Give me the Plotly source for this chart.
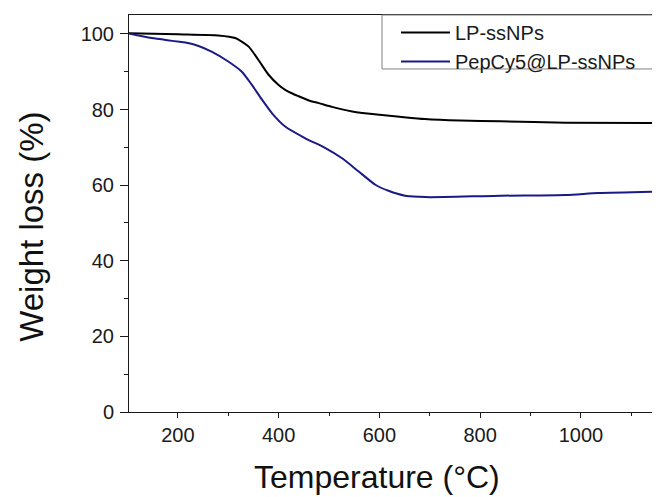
import plotly.graph_objects as go

# LP-ssNPs (black)
t_lp = [100, 200, 280, 314, 340, 360, 380, 400, 413, 426, 440, 460, 480, 506, 546, 600, 640, 690, 760, 840, 970, 1157]
w_lp = [100.2, 99.9, 99.6, 98.9, 96.7, 93.1, 89.2, 86.5, 85.2, 84.3, 83.5, 82.4, 81.7, 80.7, 79.5, 78.6, 78.1, 77.5, 77.1, 76.9, 76.5, 76.4]

# PepCy5@LP-ssNPs (blue)
t_pep = [100, 148, 215, 241, 267, 300, 327, 347, 367, 387, 413, 453, 493, 526, 559, 592, 618, 651, 680, 700, 840, 970, 1035, 1157]
w_pep = [100.2, 98.9, 97.7, 96.8, 95.3, 92.7, 90.0, 86.5, 82.6, 79.0, 75.5, 72.4, 69.8, 67.1, 63.6, 60.1, 58.5, 57.2, 56.9, 56.8, 57.2, 57.4, 57.9, 58.3]

names = ["LP-ssNPs", "PepCy5@LP-ssNPs"]
colors = ["#000000", "#1a1a85"]

x_ticks = [200, 400, 600, 800, 1000]
y_ticks = [0, 20, 40, 60, 80, 100]

FONT = "Liberation Sans, Arial, sans-serif"

# page offset of the plot div (body margin)
OFF = 8
PL, PR, PT, PB = 129, 660, 15, 412.3   # plot area in page pixels


def xp(px):
    return (px - PL) / (PR - PL)


def yp(py):
    return (PB - py) / (PB - PT)


fig = go.Figure()
fig.add_trace(go.Scatter(x=t_lp, y=w_lp, mode="lines", name=names[0],
                         line=dict(color=colors[0], width=2, shape="spline", smoothing=0.6)))
fig.add_trace(go.Scatter(x=t_pep, y=w_pep, mode="lines", name=names[1],
                         line=dict(color=colors[1], width=2, shape="spline", smoothing=0.6)))

W, H = 660 - OFF, 497 - OFF
fig.update_layout(
    width=W, height=H,
    margin=dict(l=PL - OFF, r=0, t=PT - OFF, b=H - (PB - OFF), autoexpand=False),
    paper_bgcolor="white", plot_bgcolor="white",
    font=dict(family=FONT, color="#1a1a1a", size=20),
    showlegend=True,
    legend=dict(x=xp(396), y=yp(13), xanchor="left", yanchor="top",
                bgcolor="rgba(255,255,255,0)", borderwidth=0,
                font=dict(family=FONT, size=20, color="#1a1a1a"),
                itemwidth=49, tracegroupgap=0),
    xaxis=dict(range=[103, 1157], tickvals=x_ticks, ticks="outside", ticklen=5,
               tickwidth=1, tickcolor="#1a1a1a", showline=True, linecolor="#1a1a1a",
               linewidth=1, mirror=True, showgrid=False, zeroline=False,
               tickfont=dict(size=20),
               minor=dict(dtick=100, tick0=0, ticks="outside", ticklen=3, tickcolor="#1a1a1a", showgrid=False)),
    yaxis=dict(range=[0, 105], tickvals=y_ticks, ticks="outside", ticklen=8,
               tickwidth=1, tickcolor="#1a1a1a", showline=True, linecolor="#1a1a1a",
               linewidth=1, mirror=False, showgrid=False, zeroline=False,
               tickfont=dict(size=20), ticklabelstandoff=2,
               minor=dict(dtick=10, tick0=0, ticks="outside", ticklen=4, tickcolor="#1a1a1a", showgrid=False)),
    shapes=[dict(type="rect", xref="paper", yref="paper",
                 x0=xp(382), x1=xp(654), y0=yp(69), y1=1.0,
                 line=dict(color="#808080", width=1), fillcolor="white", layer="above")],
    annotations=[
        dict(text="Temperature (°C)", xref="paper", yref="paper",
             x=xp(376.5), y=yp(477),
             xanchor="center", yanchor="middle", showarrow=False,
             font=dict(family=FONT, size=32, color="#111111")),
        dict(text="Weight loss (%)", xref="paper", yref="paper",
             x=xp(32), y=yp(227), textangle=-90,
             xanchor="center", yanchor="middle", showarrow=False,
             font=dict(family=FONT, size=33, color="#111111")),
    ],
)

fig.write_html("out.html")
